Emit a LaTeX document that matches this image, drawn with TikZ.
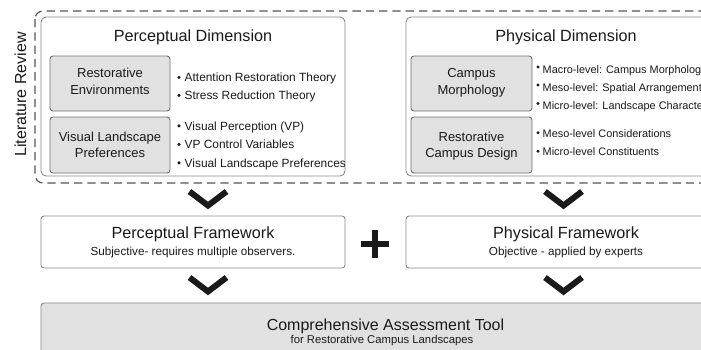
\documentclass[tikz,border=0pt]{standalone}
\usepackage{fontspec}
\setmainfont{Liberation Sans}
\definecolor{ink}{HTML}{1A1A1A}
\definecolor{boxfill}{HTML}{E1E1E1}
\definecolor{boxline}{HTML}{707070}
\definecolor{frameline}{HTML}{888888}
\definecolor{dashline}{HTML}{555555}
\begin{document}
\begin{tikzpicture}[x=1pt,y=-1pt,
  txt/.style={text=ink, inner sep=0pt, anchor=base},
  title/.style={txt, font=\fontsize{16.2}{19}\selectfont},
  sub/.style={txt, font=\fontsize{11.7}{14}\selectfont},
  lab/.style={txt, font=\fontsize{13}{16}\selectfont},
  item/.style={txt, anchor=base west, font=\fontsize{11.9}{14}\selectfont},
  itemr/.style={txt, anchor=base west, font=\fontsize{10.9}{14}\selectfont},
  dimbox/.style={draw=frameline, line width=0.9pt, fill=white, rounded corners=5pt, inner sep=0pt},
  greybox/.style={draw=boxline, line width=0.9pt, fill=boxfill, rounded corners=3pt, inner sep=0pt},
  framebox/.style={draw=frameline, line width=0.9pt, fill=white, rounded corners=3pt, inner sep=0pt},
  dashbox/.style={draw=dashline, line width=1.2pt, dash pattern=on 8.3pt off 5pt, rounded corners=8pt},
  chevron/.style={draw=ink, line width=6pt, line join=miter, line cap=butt},
  plusmark/.style={draw=ink, line width=5.6pt, line cap=butt},
  dot/.style={fill=ink, draw=none}]
\clip (0,0) rectangle (701,349);
\fill[white] (0,0) rectangle (701,349);

% literature review frame
\draw[dashbox] (35,11) rectangle (760,183);
\node[txt, rotate=90, font=\fontsize{16}{19}\selectfont] (lit) at (26,94.5) {Literature Review};

% perceptual dimension
\node[dimbox, minimum width=304pt, minimum height=159pt] (pd) at (193,96.5) {};
\node[title] (pdt) at (193,41) {Perceptual Dimension};
\node[greybox, minimum width=120pt, minimum height=55pt] (re) at (110,83.5) {};
\node[lab] (re1) at (110,77.5) {Restorative};
\node[lab] (re2) at (110,94) {Environments};
\node[greybox, minimum width=120pt, minimum height=56pt] (vl) at (110,145) {};
\node[lab] (vl1) at (110,141.5) {Visual Landscape};
\node[lab] (vl2) at (110,157.5) {Preferences};

\foreach \y/\t [count=\i] in {81.5/Attention Restoration Theory, 99.5/Stress Reduction Theory,
    130/Visual Perception (VP), 148.5/VP Control Variables, 167/Visual Landscape Preferences} {
  \fill[dot] (179,\y-4.2) circle (1.7pt);
  \node[item] (pi\i) at (184.5,\y) {\t};
}

% physical dimension
\node[dimbox, minimum width=320pt, minimum height=159pt] (phd) at (566,96.5) {};
\node[title] (phdt) at (566,41) {Physical Dimension};
\node[greybox, minimum width=121pt, minimum height=55pt] (cm) at (471.5,83.5) {};
\node[lab] (cm1) at (471.5,77.5) {Campus};
\node[lab] (cm2) at (471.5,94) {Morphology};
\node[greybox, minimum width=121pt, minimum height=56pt] (rc) at (471.5,145) {};
\node[lab] (rc1) at (471.5,141.5) {Restorative};
\node[lab] (rc2) at (471.5,157.5) {Campus Design};

\foreach \y/\t/\d [count=\i] in {73.5/Macro-level: Campus Morphology/6.5, 91.5/Meso-level: Spatial Arrangements/6.5,
    109/Micro-level: Landscape Characteristics/5.5, 137/Meso-level Considerations/4.2, 155.5/Micro-level Constituents/4.2} {
  \fill[dot] (538,\y-\d) circle (1.6pt);
  \node[itemr] (ph\i) at (542.5,\y) {\t};
}

% chevrons into the frameworks
\draw[chevron] (189.5,191.5) -- (208,205.5) -- (226.5,191.5);
\draw[chevron] (545,191.5) -- (563.5,205.5) -- (582,191.5);

% frameworks
\node[framebox, minimum width=304pt, minimum height=52pt] (pf) at (193,242) {};
\node[title] (pft) at (193,238.5) {Perceptual Framework};
\node[sub] (pfs) at (193,255.5) {Subjective- requires multiple observers.};
\node[framebox, minimum width=320pt, minimum height=52pt] (phf) at (566,242) {};
\node[title] (phft) at (566,238.5) {Physical Framework};
\node[sub] (phfs) at (566,255.5) {Objective - applied by experts};

% plus sign between frameworks
\draw[plusmark] (361,244) -- (389,244) (375,230) -- (375,258);

% chevrons into the tool
\draw[chevron] (189.5,277.5) -- (208,291.5) -- (226.5,277.5);
\draw[chevron] (545,277.5) -- (563.5,291.5) -- (582,277.5);

% assessment tool
\node[greybox, draw=frameline, minimum width=689pt, minimum height=77pt] (cat) at (385.5,341.5) {};
\node[title, font=\fontsize{16}{19}\selectfont] (catt) at (385.5,330) {Comprehensive Assessment Tool};
\node[sub, font=\fontsize{11.3}{14}\selectfont] (cats) at (382,343.5) {for Restorative Campus Landscapes};
\end{tikzpicture}
\end{document}
